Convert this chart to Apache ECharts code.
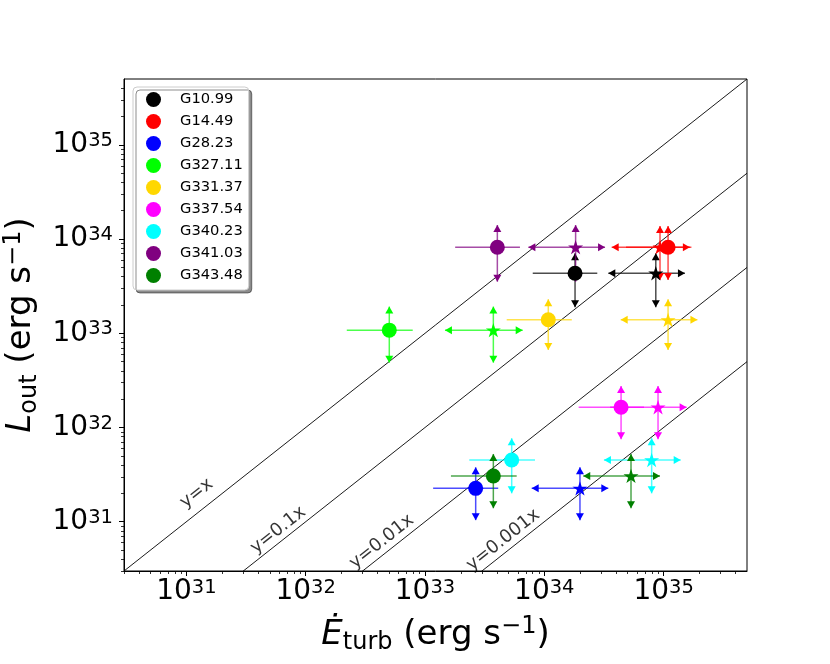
<!DOCTYPE html>
<html><head><meta charset="utf-8">
<script src="https://cdn.jsdelivr.net/npm/echarts@6/dist/echarts.min.js"></script>
<style>html,body{margin:0;padding:0;background:#fff}#c{width:830px;height:664px}</style>
</head><body><div id="c"></div>
<script>
// ---- data ----
const sources = ['G10.99','G14.49','G28.23','G327.11','G331.37','G337.54','G340.23','G341.03','G343.48'];
const colors  = ['#000000','#ff0000','#0000ff','#00ff00','#ffd700','#ff00ff','#00ffff','#800080','#008000'];
// circle estimate of E_turb and its range
const circleX   = [1.81e34, 1.09e35, 2.66e33, 5.02e32, 1.08e34, 4.40e34, 5.33e33, 4.04e33, 3.74e33];
const circleXLo = [8.0e33, 4.84e34, 1.17e33, 2.21e32, 4.84e33, 1.94e34, 2.35e33, 1.79e33, 1.65e33];
const circleXHi = [2.78e34, 1.71e35, 4.11e33, 7.89e32, 1.70e34, 6.85e34, 8.36e33, 6.25e33, 5.87e33];
// star estimate of E_turb and its range
const starX     = [8.6e34, 9.33e34, 1.99e34, 3.74e33, 1.09e35, 8.98e34, 7.94e34, 1.83e34, 5.33e34];
const starXLo   = [3.44e34, 3.67e34, 7.84e33, 1.47e33, 4.37e34, 3.56e34, 3.16e34, 7.35e33, 2.12e34];
const starXHi   = [1.51e35, 1.66e35, 3.44e34, 6.59e33, 1.92e35, 1.56e35, 1.39e35, 3.23e34, 9.33e34];
const starLeftArrow = [1, 1, 1, 1, 1, 0, 1, 1, 1];
// L_out and its range
const lumY   = [4.34e33, 8.2e33, 2.26e31, 1.08e33, 1.39e33, 1.64e32, 4.52e31, 8.2e33, 3.06e31];
const lumYLo = [1.89e33, 3.68e33, 1.04e31, 4.88e32, 6.65e32, 7.5e31, 2.0e31, 3.53e33, 1.39e31];
const lumYHi = [7.08e33, 1.38e34, 3.78e31, 1.92e33, 2.30e33, 2.76e32, 7.69e31, 1.41e34, 5.24e31];
// reference lines y = k x
const lineFactors = [1, 0.1, 0.01, 0.001];
const lineLabels  = ['y=x', 'y=0.1x', 'y=0.01x', 'y=0.001x'];
const lineLabelX  = [1.22e31, 5.89e31, 4.34e32, 4.53e33];
const lineLabelY  = [2.0e31, 8.17e30, 6.14e30, 6.40e30];
// axes
const axisMin = 3e30, axisMax = 5e35;
const majorTicks = [1e31, 1e32, 1e33, 1e34, 1e35];
const minorTicks = [];
for (let e = 30; e <= 35; e++) for (let m = 2; m <= 9; m++) {
  const v = m * Math.pow(10, e);
  if (v > axisMin && v < axisMax) minorTicks.push(v);
}

const FONT = 'DejaVu Sans';
const starPath = 'path://M100,0 L77.55,69.1 L4.9,69.1 L63.67,111.8 L41.2,180.9 L100,138.2 L158.8,180.9 L136.33,111.8 L195.1,69.1 L122.45,69.1 Z';

function tickFmt(v) {
  const e = Math.round(Math.log10(v));
  return '{b|10}{s|' + e + '}';
}
const tickRich = {
  b: {fontSize: 28, lineHeight: 28, fontFamily: FONT, color: '#000'},
  s: {fontSize: 19.5, lineHeight: 8, verticalAlign: 'top', fontFamily: FONT, color: '#000'}
};
const nameRich = {
  it: {fontSize: 34, lineHeight: 40, fontStyle: 'italic', fontFamily: FONT, color: '#000'},
  n: {fontSize: 34, lineHeight: 40, fontFamily: FONT, color: '#000'},
  sub: {fontSize: 24, lineHeight: 21, verticalAlign: 'bottom', fontFamily: FONT, color: '#000'},
  sup: {fontSize: 24, lineHeight: 23, verticalAlign: 'top', fontFamily: FONT, color: '#000'}
};

function mainAxis(pos, name, gap, margin) {
  return {
    type: 'log', logBase: 10, min: axisMin, max: axisMax, position: pos,
    axisLine: {show: true, onZero: false, lineStyle: {color: '#000', width: 1}},
    axisTick: {show: true, customValues: majorTicks, length: 5, inside: false, lineStyle: {color: '#000', width: 1}},
    axisLabel: {show: true, customValues: majorTicks, formatter: tickFmt, rich: tickRich, margin: margin, color: '#000'},
    splitLine: {show: false}, minorTick: {show: false}, minorSplitLine: {show: false},
    name: name, nameLocation: 'middle', nameGap: gap,
    nameTextStyle: {rich: nameRich, fontFamily: FONT, fontSize: 34, color: '#000'}
  };
}
function minorAxis(pos) {
  return {
    type: 'log', logBase: 10, min: axisMin, max: axisMax, position: pos,
    axisLine: {show: false},
    axisTick: {show: true, customValues: minorTicks, length: 3, inside: false, lineStyle: {color: '#000', width: 0.8}},
    axisLabel: {show: false}, splitLine: {show: false}
  };
}

const xA = mainAxis('bottom', '{it|Ė}{sub|turb}{n| (erg s}{sup|−1}{n|)}', 44, 7);
const yA = mainAxis('left', '{it|L}{sub|out}{n| (erg s}{sup|−1}{n|)}', 82, 11);
yA.nameRotate = 90;

// error bars
const errData = [];
for (let i = 0; i < sources.length; i++) {
  errData.push([circleX[i], lumY[i], circleXLo[i], circleXHi[i], lumYLo[i], lumYHi[i], 0, i]);
  errData.push([starX[i], lumY[i], starXLo[i], starXHi[i], lumYLo[i], lumYHi[i], 1, i]);
}
function renderErr(params, api) {
  const kind = api.value(6), idx = api.value(7);
  const col = colors[idx];
  const c = api.coord([api.value(0), api.value(1)]);
  const l = api.coord([api.value(2), api.value(1)]);
  const r = api.coord([api.value(3), api.value(1)]);
  const b = api.coord([api.value(0), api.value(4)]);
  const t = api.coord([api.value(0), api.value(5)]);
  const ls = {stroke: col, lineWidth: 1.5, opacity: 0.7};
  const ch = [
    {type: 'line', shape: {x1: l[0], y1: c[1], x2: r[0], y2: c[1]}, style: ls},
    {type: 'line', shape: {x1: c[0], y1: t[1], x2: c[0], y2: b[1]}, style: ls}
  ];
  function arrow(px, py, dx, dy) {
    const L = 7, W = 4;
    const bx = px - dx * L, by = py - dy * L;
    return {type: 'polygon', shape: {points: [[px, py], [bx - dy * W, by + dx * W], [bx + dy * W, by - dx * W]]}, style: {fill: col}};
  }
  ch.push(arrow(c[0], t[1], 0, -1));
  ch.push(arrow(c[0], b[1], 0, 1));
  if (kind === 1) {
    ch.push(arrow(r[0], c[1], 1, 0));
    if (starLeftArrow[idx]) ch.push(arrow(l[0], c[1], -1, 0));
  }
  return {type: 'group', children: ch};
}

const series = [];
lineFactors.forEach((k, i) => {
  series.push({
    type: 'line', z: 1, silent: true, clip: true, symbol: 'none',
    lineStyle: {color: '#000', width: 0.9},
    data: [[axisMin, k * axisMin], [axisMax, k * axisMax]]
  });
});
series.push({
  type: 'scatter', z: 1, silent: true, symbolSize: 0,
  data: lineLabels.map((t, i) => ({value: [lineLabelX[i], lineLabelY[i]], name: t})),
  label: {show: true, position: 'inside', formatter: p => p.name, rotate: 38.3,
          fontFamily: FONT, fontSize: 18, color: '#000', align: 'center', verticalAlign: 'middle'}
});
series.push({type: 'custom', z: 2, silent: true, renderItem: renderErr, data: errData, clip: false,
             encode: {x: 0, y: 1}});
sources.forEach((s, i) => {
  series.push({
    type: 'scatter', name: s, z: 3, silent: true,
    itemStyle: {color: colors[i], opacity: 1},
    data: [
      {value: [circleX[i], lumY[i]], symbol: 'circle', symbolSize: 15},
      {value: [starX[i], lumY[i]], symbol: starPath, symbolSize: [15, 14.3]}
    ]
  });
});

const chart = echarts.init(document.getElementById('c'), null, {renderer: 'canvas'});
chart.setOption({
  animation: false,
  backgroundColor: '#fff',
  textStyle: {fontFamily: FONT},
  grid: {left: 124, right: 83, top: 79, bottom: 93, show: true, borderColor: '#000', borderWidth: 1,
         backgroundColor: 'transparent', containLabel: false, outerBoundsMode: 'none'},
  legend: {
    orient: 'vertical', left: 133, top: 87,
    data: sources.map((s, i) => ({name: s, icon: 'circle', itemStyle: {color: colors[i]}})),
    itemWidth: 15, itemHeight: 15, itemGap: 7,
    padding: [5, 6, 7, 13],
    textStyle: {fontFamily: FONT, fontSize: 14.7, color: '#000', padding: [0, 0, 0, 14], lineHeight: 15},
    backgroundColor: '#fff', borderColor: '#cccccc', borderWidth: 1, borderRadius: 4,
    shadowColor: 'rgba(0,0,0,0.45)', shadowBlur: 0, shadowOffsetX: 3, shadowOffsetY: 3,
    selectedMode: false
  },
  xAxis: [xA, minorAxis('bottom')],
  yAxis: [yA, minorAxis('left')],
  series: series
});
</script></body></html>
